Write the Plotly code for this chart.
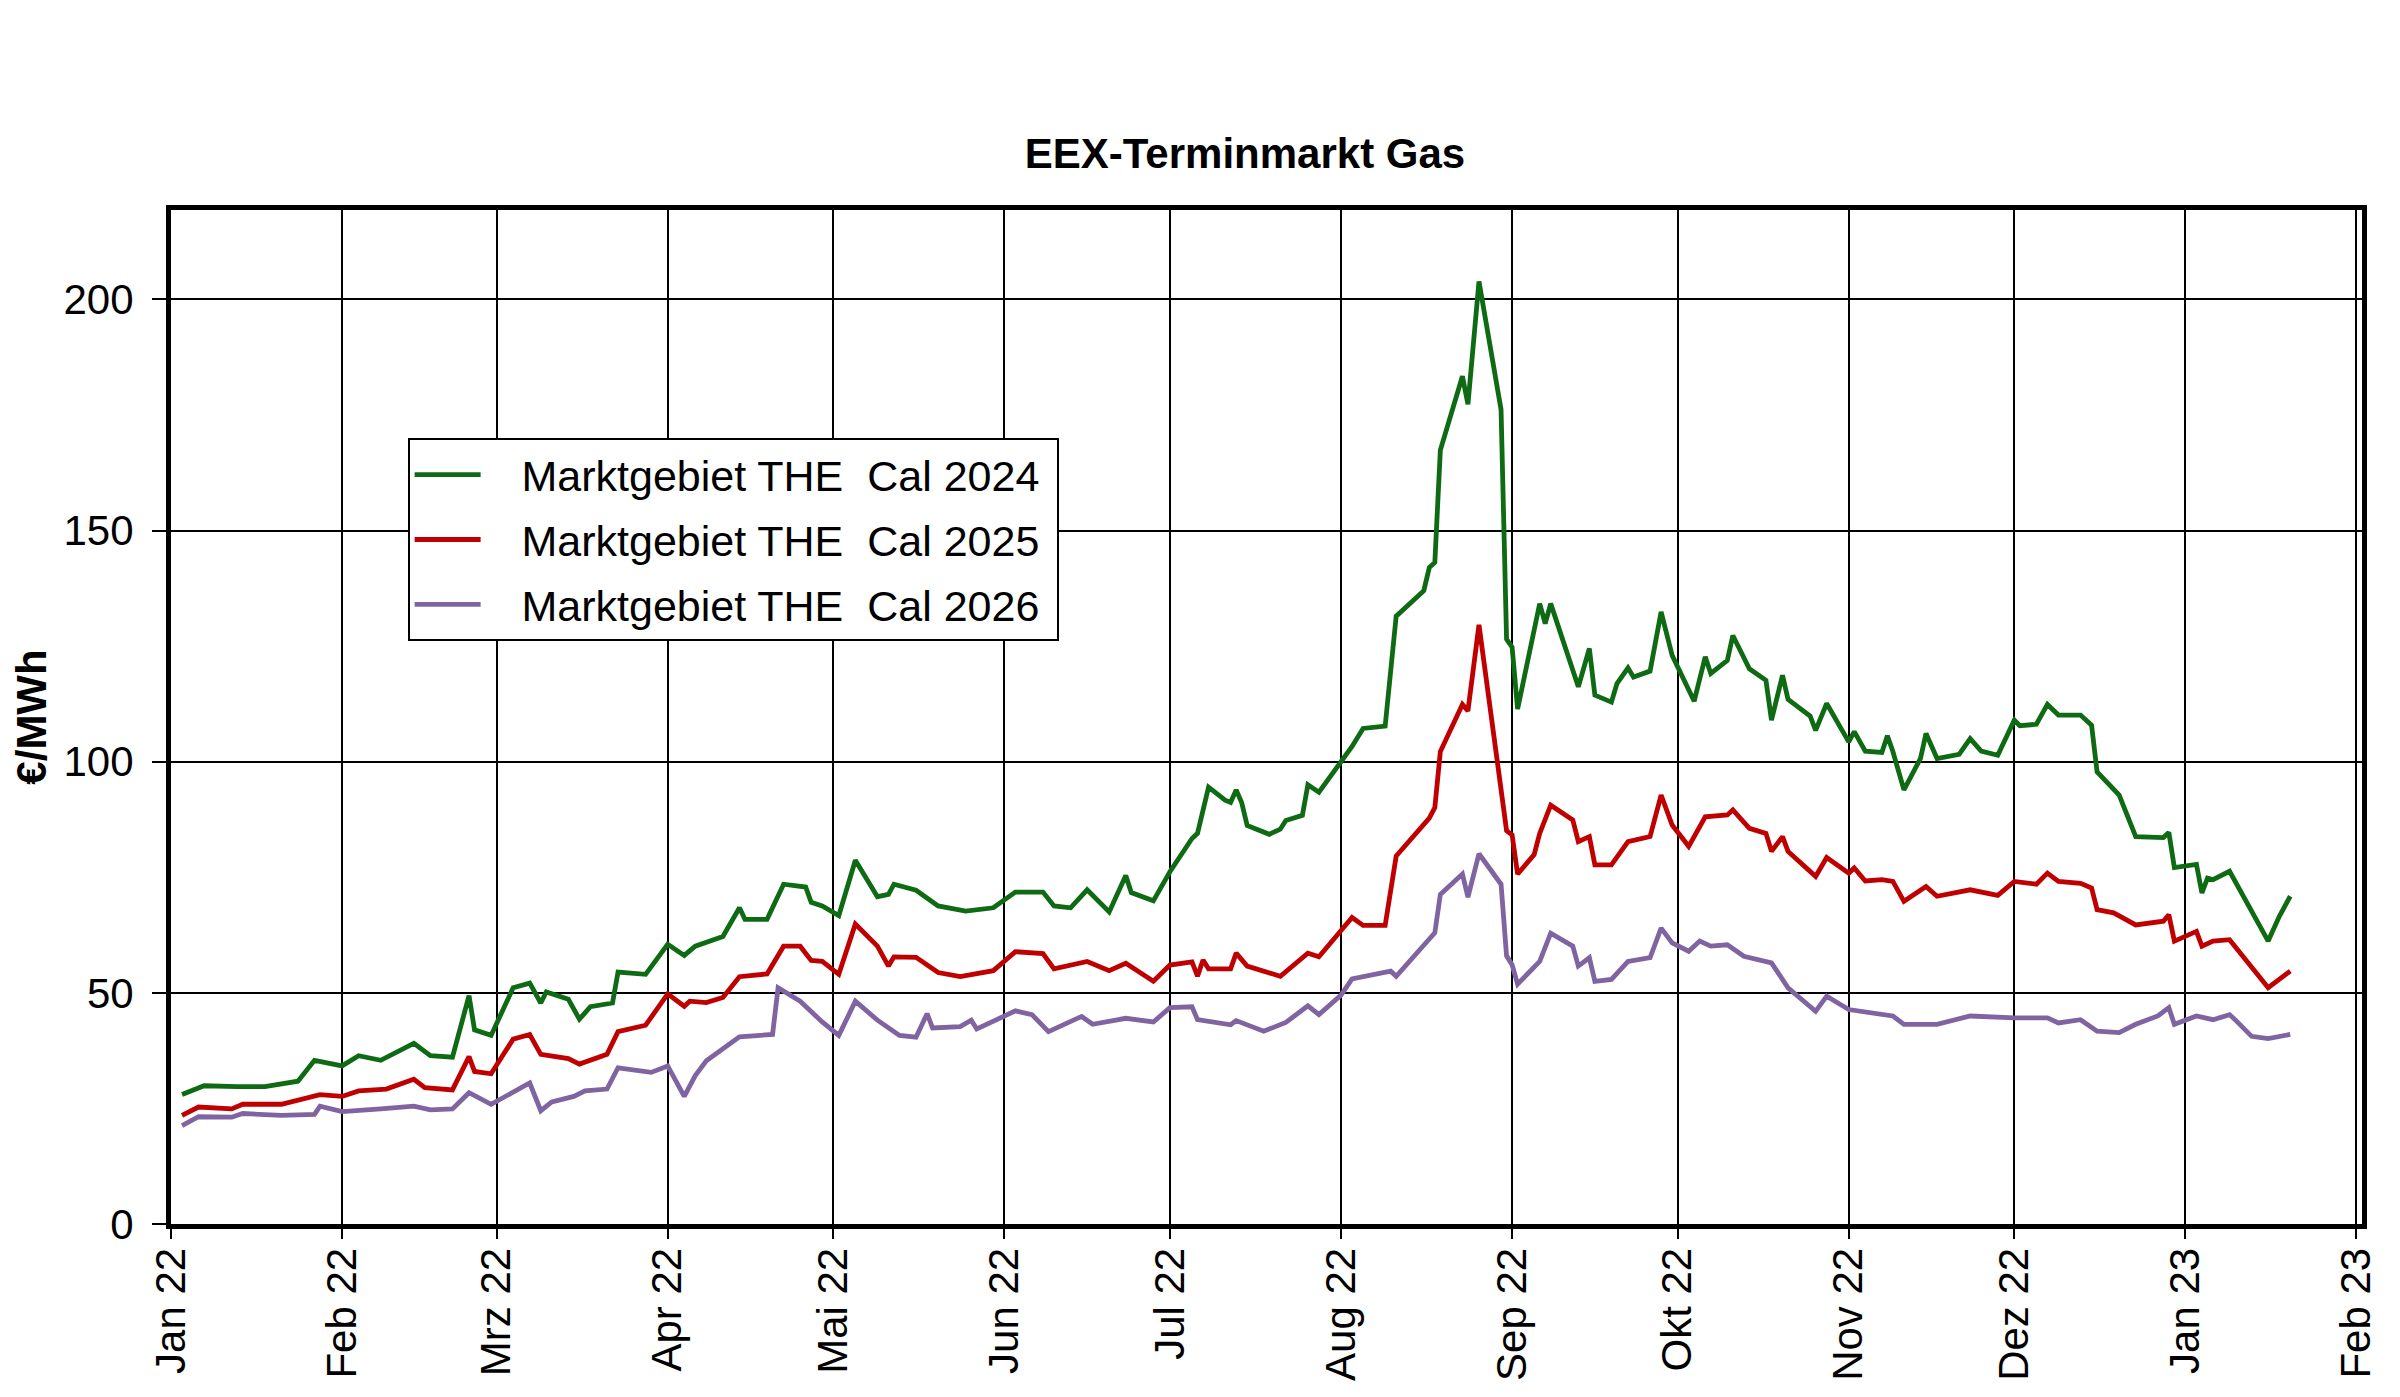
import plotly.graph_objects as go

# EEX Terminmarkt Gas, Marktgebiet THE, Cal-Produkte (€/MWh)
dates_2024 = [
    "2022-01-03", "2022-01-07", "2022-01-13", "2022-01-18", "2022-01-24", "2022-01-27",
    "2022-02-01", "2022-02-04", "2022-02-08", "2022-02-14", "2022-02-17", "2022-02-21",
    "2022-02-24", "2022-02-25", "2022-02-28", "2022-03-04", "2022-03-07", "2022-03-09",
    "2022-03-10", "2022-03-14", "2022-03-16", "2022-03-18", "2022-03-22", "2022-03-23",
    "2022-03-28", "2022-04-01", "2022-04-04", "2022-04-06", "2022-04-11", "2022-04-14",
    "2022-04-15", "2022-04-19", "2022-04-22", "2022-04-26", "2022-04-27", "2022-04-29",
    "2022-05-02", "2022-05-05", "2022-05-09", "2022-05-11", "2022-05-12", "2022-05-16",
    "2022-05-20", "2022-05-25", "2022-05-30", "2022-06-03", "2022-06-08", "2022-06-10",
    "2022-06-13", "2022-06-16", "2022-06-20", "2022-06-23", "2022-06-24", "2022-06-28",
    "2022-07-01", "2022-07-05", "2022-07-06", "2022-07-08", "2022-07-11", "2022-07-12",
    "2022-07-13", "2022-07-14", "2022-07-15", "2022-07-19", "2022-07-21", "2022-07-22",
    "2022-07-25", "2022-07-26", "2022-07-28", "2022-08-01", "2022-08-03", "2022-08-05",
    "2022-08-09", "2022-08-11", "2022-08-16", "2022-08-17", "2022-08-18", "2022-08-19",
    "2022-08-23", "2022-08-24", "2022-08-26", "2022-08-30", "2022-08-31", "2022-09-01",
    "2022-09-02", "2022-09-06", "2022-09-07", "2022-09-08", "2022-09-13", "2022-09-15",
    "2022-09-16", "2022-09-19", "2022-09-20", "2022-09-22", "2022-09-23", "2022-09-26",
    "2022-09-28", "2022-09-30", "2022-10-04", "2022-10-06", "2022-10-07", "2022-10-10",
    "2022-10-11", "2022-10-14", "2022-10-17", "2022-10-18", "2022-10-20", "2022-10-21",
    "2022-10-25", "2022-10-26", "2022-10-28", "2022-11-01", "2022-11-02", "2022-11-04",
    "2022-11-07", "2022-11-08", "2022-11-09", "2022-11-11", "2022-11-14", "2022-11-15",
    "2022-11-17", "2022-11-21", "2022-11-23", "2022-11-25", "2022-11-28", "2022-12-01",
    "2022-12-02", "2022-12-05", "2022-12-07", "2022-12-09", "2022-12-13", "2022-12-15",
    "2022-12-16", "2022-12-20", "2022-12-23", "2022-12-28", "2022-12-29", "2022-12-30",
    "2023-01-03", "2023-01-04", "2023-01-05", "2023-01-06", "2023-01-09", "2023-01-16",
    "2023-01-18", "2023-01-20",
]
cal_2024 = [
    28.0, 29.9, 29.7, 29.7, 30.9, 35.4,
    34.2, 36.4, 35.4, 39.1, 36.4, 36.1,
    49.4, 42.0, 40.8, 51.1, 52.1, 47.8,
    50.2, 48.6, 44.3, 47.0, 47.8, 54.5,
    54.0, 60.5, 58.1, 60.1, 62.2, 68.4,
    65.9, 65.9, 73.5, 72.9, 69.6, 68.8,
    66.7, 78.7, 70.8, 71.3, 73.5, 72.2,
    68.8, 67.7, 68.4, 71.8, 71.8, 68.8,
    68.4, 72.3, 67.5, 75.4, 71.7, 69.9,
    76.2, 83.4, 84.5, 94.5, 91.7, 91.2,
    93.9, 91.2, 86.2, 84.3, 85.4, 87.3,
    88.4, 95.0, 93.4, 100.0, 103.3, 107.2,
    107.7, 131.5, 137.0, 142.0, 143.1, 167.4,
    183.4, 177.3, 203.9, 176.2, 126.5, 124.8,
    111.4, 134.2, 129.9, 134.2, 116.2, 124.5,
    114.4, 112.9, 116.9, 120.3, 118.3, 119.6,
    132.4, 123.0, 113.1, 122.7, 119.1, 121.9,
    127.3, 120.1, 117.6, 109.0, 118.7, 113.5,
    109.9, 106.8, 112.6, 104.3, 106.5, 102.3,
    102.0, 105.6, 102.2, 93.9, 100.7, 106.1,
    100.7, 101.6, 105.0, 102.3, 101.4, 109.0,
    107.8, 108.1, 112.4, 110.1, 110.1, 107.9,
    97.8, 92.8, 83.8, 83.6, 84.7, 77.1,
    77.8, 71.6, 74.8, 74.5, 76.3, 61.2,
    66.5, 70.9,
]

dates_2025 = [
    "2022-01-03", "2022-01-06", "2022-01-12", "2022-01-14", "2022-01-21", "2022-01-28",
    "2022-02-01", "2022-02-04", "2022-02-09", "2022-02-14", "2022-02-16", "2022-02-21",
    "2022-02-24", "2022-02-25", "2022-02-28", "2022-03-04", "2022-03-07", "2022-03-09",
    "2022-03-14", "2022-03-16", "2022-03-21", "2022-03-23", "2022-03-28", "2022-04-01",
    "2022-04-04", "2022-04-05", "2022-04-08", "2022-04-11", "2022-04-14", "2022-04-19",
    "2022-04-22", "2022-04-25", "2022-04-27", "2022-04-29", "2022-05-02", "2022-05-05",
    "2022-05-09", "2022-05-11", "2022-05-12", "2022-05-16", "2022-05-20", "2022-05-24",
    "2022-05-30", "2022-06-03", "2022-06-08", "2022-06-10", "2022-06-16", "2022-06-20",
    "2022-06-23", "2022-06-28", "2022-07-01", "2022-07-05", "2022-07-06", "2022-07-07",
    "2022-07-08", "2022-07-12", "2022-07-13", "2022-07-15", "2022-07-21", "2022-07-26",
    "2022-07-28", "2022-08-03", "2022-08-05", "2022-08-09", "2022-08-11", "2022-08-17",
    "2022-08-18", "2022-08-19", "2022-08-23", "2022-08-24", "2022-08-26", "2022-08-31",
    "2022-09-01", "2022-09-02", "2022-09-05", "2022-09-06", "2022-09-08", "2022-09-12",
    "2022-09-13", "2022-09-15", "2022-09-16", "2022-09-19", "2022-09-22", "2022-09-26",
    "2022-09-28", "2022-09-30", "2022-10-03", "2022-10-06", "2022-10-10", "2022-10-11",
    "2022-10-14", "2022-10-17", "2022-10-18", "2022-10-20", "2022-10-21", "2022-10-26",
    "2022-10-28", "2022-11-01", "2022-11-02", "2022-11-04", "2022-11-07", "2022-11-09",
    "2022-11-11", "2022-11-15", "2022-11-17", "2022-11-23", "2022-11-28", "2022-12-01",
    "2022-12-05", "2022-12-07", "2022-12-09", "2022-12-13", "2022-12-15", "2022-12-16",
    "2022-12-19", "2022-12-23", "2022-12-28", "2022-12-29", "2022-12-30", "2023-01-03",
    "2023-01-04", "2023-01-06", "2023-01-09", "2023-01-16", "2023-01-20",
]
cal_2025 = [
    23.5, 25.3, 24.9, 25.9, 25.9, 28.0,
    27.6, 28.8, 29.2, 31.3, 29.5, 29.0,
    36.2, 33.0, 32.5, 40.0, 41.0, 36.7,
    35.8, 34.6, 36.7, 41.6, 43.0, 49.8,
    47.1, 48.2, 47.9, 49.0, 53.5, 54.1,
    60.1, 60.1, 57.0, 56.8, 54.0, 64.9,
    60.1, 55.8, 57.8, 57.7, 54.4, 53.5,
    54.8, 58.9, 58.5, 55.2, 56.8, 54.8,
    56.4, 52.5, 56.0, 56.7, 53.6, 57.1,
    55.2, 55.2, 58.6, 55.8, 53.6, 58.6,
    57.8, 66.3, 64.6, 64.6, 79.6, 87.8,
    90.1, 102.2, 112.4, 111.0, 129.6, 85.1,
    84.2, 75.7, 79.9, 84.5, 90.6, 87.4,
    82.7, 83.8, 77.7, 77.7, 82.7, 83.8,
    92.8, 86.3, 81.7, 88.1, 88.5, 89.6,
    85.6, 84.5, 80.6, 83.8, 80.6, 75.2,
    79.3, 75.9, 77.0, 74.2, 74.5, 74.1,
    69.8, 73.0, 70.9, 72.3, 71.1, 74.1,
    73.5, 75.9, 74.1, 73.7, 72.7, 68.0,
    67.3, 64.7, 65.5, 66.9, 61.2, 63.3,
    60.1, 61.2, 61.5, 51.1, 54.7,
]

dates_2026 = [
    "2022-01-03", "2022-01-06", "2022-01-12", "2022-01-14", "2022-01-21", "2022-01-27",
    "2022-01-28", "2022-02-01", "2022-02-08", "2022-02-14", "2022-02-17", "2022-02-21",
    "2022-02-24", "2022-02-28", "2022-03-07", "2022-03-09", "2022-03-11", "2022-03-15",
    "2022-03-17", "2022-03-21", "2022-03-23", "2022-03-29", "2022-04-01", "2022-04-04",
    "2022-04-06", "2022-04-08", "2022-04-14", "2022-04-20", "2022-04-21", "2022-04-25",
    "2022-04-29", "2022-05-02", "2022-05-05", "2022-05-09", "2022-05-13", "2022-05-16",
    "2022-05-18", "2022-05-19", "2022-05-24", "2022-05-26", "2022-05-27", "2022-06-03",
    "2022-06-06", "2022-06-09", "2022-06-15", "2022-06-17", "2022-06-23", "2022-06-28",
    "2022-07-01", "2022-07-05", "2022-07-06", "2022-07-12", "2022-07-13", "2022-07-18",
    "2022-07-22", "2022-07-26", "2022-07-28", "2022-08-01", "2022-08-03", "2022-08-10",
    "2022-08-11", "2022-08-18", "2022-08-19", "2022-08-23", "2022-08-24", "2022-08-26",
    "2022-08-30", "2022-08-31", "2022-09-01", "2022-09-02", "2022-09-06", "2022-09-08",
    "2022-09-12", "2022-09-13", "2022-09-15", "2022-09-16", "2022-09-19", "2022-09-22",
    "2022-09-26", "2022-09-28", "2022-09-30", "2022-10-03", "2022-10-05", "2022-10-07",
    "2022-10-10", "2022-10-13", "2022-10-18", "2022-10-21", "2022-10-26", "2022-10-28",
    "2022-11-01", "2022-11-07", "2022-11-09", "2022-11-11", "2022-11-17", "2022-11-23",
    "2022-12-01", "2022-12-07", "2022-12-09", "2022-12-13", "2022-12-16", "2022-12-20",
    "2022-12-23", "2022-12-27", "2022-12-29", "2022-12-30", "2023-01-03", "2023-01-06",
    "2023-01-09", "2023-01-10", "2023-01-13", "2023-01-16", "2023-01-20",
]
cal_2026 = [
    21.3, 23.2, 23.1, 23.9, 23.5, 23.7,
    25.5, 24.3, 24.9, 25.5, 24.7, 24.9,
    28.4, 25.9, 30.5, 24.5, 26.4, 27.6,
    28.8, 29.2, 33.8, 32.8, 34.2, 27.6,
    32.1, 35.3, 40.5, 41.0, 51.1, 48.2,
    43.7, 40.8, 48.2, 44.1, 40.8, 40.4,
    45.5, 42.4, 42.7, 44.1, 42.2, 46.1,
    45.3, 41.6, 44.9, 43.2, 44.5, 43.7,
    46.8, 47.0, 44.2, 43.1, 44.0, 41.7,
    43.6, 47.2, 45.3, 49.5, 53.0, 54.7,
    53.6, 63.0, 71.3, 75.7, 70.7, 80.1,
    73.5, 58.0, 56.1, 51.9, 56.8, 62.9,
    60.1, 55.8, 57.6, 52.5, 52.9, 56.8,
    57.6, 64.0, 60.8, 59.0, 61.2, 60.1,
    60.4, 57.9, 56.5, 51.1, 46.0, 49.3,
    46.4, 45.3, 45.0, 43.2, 43.2, 45.0,
    44.6, 44.6, 43.5, 44.2, 41.7, 41.4,
    43.2, 45.0, 46.8, 43.2, 45.0, 44.2,
    45.3, 44.2, 40.6, 40.1, 41.0,
]

month_ticks = [
    "2022-01-01", "2022-02-01", "2022-03-01", "2022-04-01", "2022-05-01", "2022-06-01",
    "2022-07-01", "2022-08-01", "2022-09-01", "2022-10-01", "2022-11-01", "2022-12-01",
    "2023-01-01", "2023-02-01",
]
month_labels = [
    "Jan 22", "Feb 22", "Mrz 22", "Apr 22", "Mai 22", "Jun 22", "Jul 22",
    "Aug 22", "Sep 22", "Okt 22", "Nov 22", "Dez 22", "Jan 23", "Feb 23",
]

FONT = "Liberation Sans, Arial, sans-serif"
GAP = "\u00a0\u00a0\u00a0"

series = [
    ("Marktgebiet THE\u00a0 Cal 2024", dates_2024, cal_2024, "#0e6b14"),
    ("Marktgebiet THE\u00a0 Cal 2025", dates_2025, cal_2025, "#c00000"),
    ("Marktgebiet THE\u00a0 Cal 2026", dates_2026, cal_2026, "#8064a2"),
]

traces = []
for i, (name, x, y, color) in enumerate(series):
    traces.append(go.Scatter(
        x=x, y=y, name=GAP + name + "\u00a0", mode="lines",
        line=dict(color=color, width=4.8),
        legendgroup="g%d" % i,
    ))

fig = go.Figure(data=traces)

fig.update_layout(
    width=2400, height=1397,
    margin=dict(l=163, r=46, t=202, b=181),
    paper_bgcolor="white", plot_bgcolor="white",
    font=dict(family=FONT, size=42, color="black"),
    title=dict(
        text="<b>EEX-Terminmarkt Gas</b>",
        x=1237 / 2400, xanchor="center", xref="container",
        y=1 - 145 / 1397, yanchor="middle", yref="container",
        font=dict(family=FONT, size=42, color="black"),
    ),
    legend=dict(
        x=0.108, y=0.775, xanchor="left", yanchor="top",
        bgcolor="white", bordercolor="black", borderwidth=2,
        font=dict(family=FONT, size=43, color="black"),
        tracegroupgap=6, itemwidth=66,
    ),
    showlegend=True,
)

fig.update_xaxes(
    type="date",
    range=["2022-01-01", "2023-02-02"],
    tickvals=month_ticks, ticktext=month_labels, tickangle=-90,
    showgrid=True, gridcolor="black", gridwidth=1.5,
    showline=True, linecolor="black", linewidth=5, mirror=True,
    ticks="outside", ticklen=10, tickwidth=2, tickcolor="black",
    zeroline=False, automargin=False,
    ticklabelstandoff=-8,
    tickfont=dict(family=FONT, size=42, color="black"),
)
fig.update_yaxes(
    range=[0, 219.35],
    tickvals=[0, 50, 100, 150, 200],
    showgrid=True, gridcolor="black", gridwidth=1.5,
    showline=True, linecolor="black", linewidth=5, mirror=True,
    ticks="outside", ticklen=14, tickwidth=2, tickcolor="black",
    zeroline=False, automargin=False,
    ticklabelstandoff=10,
    tickfont=dict(family=FONT, size=42, color="black"),
    title=dict(text="<b>€/MWh</b>", standoff=12,
               font=dict(family=FONT, size=42, color="black")),
)

fig.write_html("out.html")
